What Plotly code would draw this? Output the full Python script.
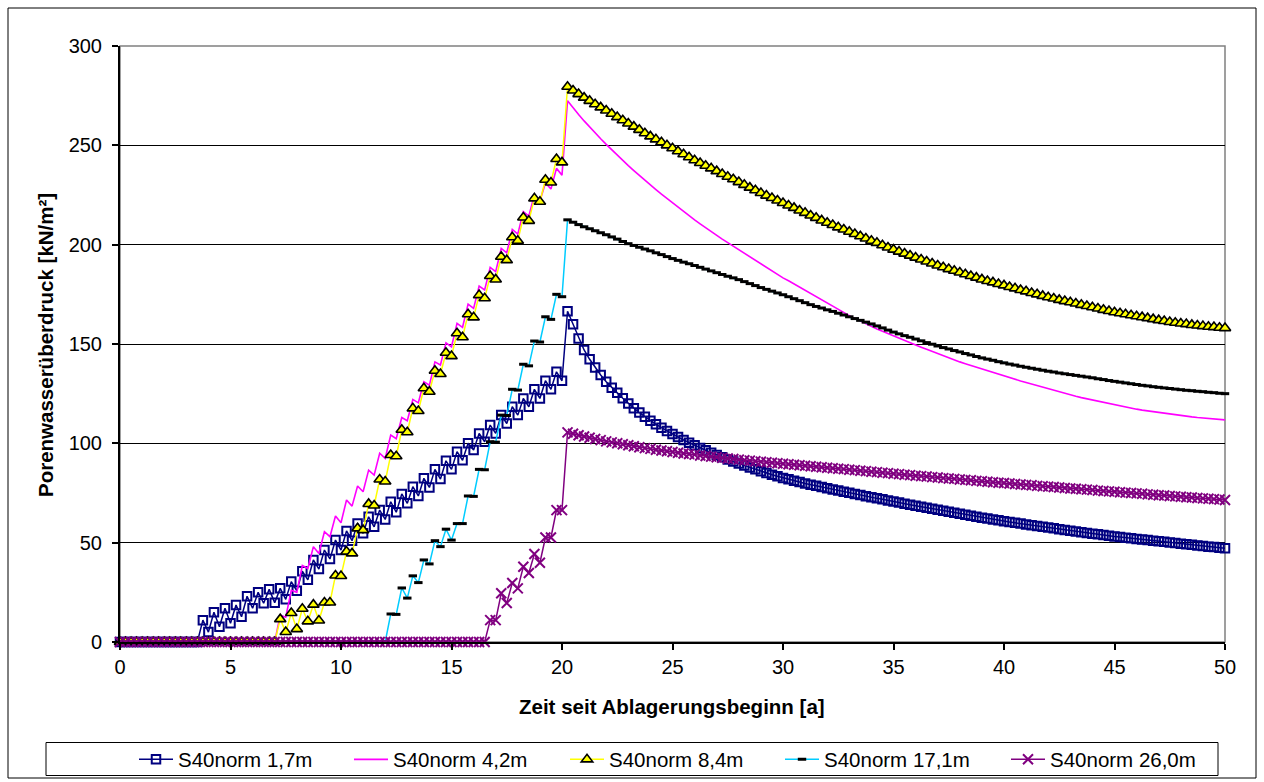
import plotly.graph_objects as go

# time grid (years), step 0.25 from 0 to 50
t = [i * 0.25 for i in range(201)]

# ---- S40norm 1,7m (zero up to t=3.5) ----
s17_rise = [11, 5, 15, 7.7, 17, 9.4, 18.6, 12.7, 23, 17, 25, 19.5, 26.5, 19.8, 27, 21.5,
            30.4, 25.8, 35.6, 31.3, 41.3, 36.7, 46.3, 41.8, 51.3, 46.3, 55.9, 51, 59.7, 54.7,
            63, 58, 66.4, 61.7, 70.6, 65.3, 74.5, 69.8, 78.2, 73.5, 82.4, 77.8, 86.9, 82,
            91.2, 86.9, 95.8, 91.5, 100, 96.6, 105, 100.8, 109.2, 105, 114.2, 110, 118.4, 114.2,
            122.6, 118.4, 127.2, 122.6, 131.5, 127.2, 136, 131.5]
s17_decay = [166.5, 160, 152.8, 147,
             142.3, 138.2, 134.4, 131,
             128, 125.4, 122.7, 120.1,
             117.7, 115.5, 113.4, 111.4,
             109.6, 107.9, 106.2, 104.7,
             103.2, 101.7, 100.3, 99.0,
             97.7, 96.5, 95.3, 94.1,
             93.0, 91.9, 90.8, 89.8,
             88.8, 87.8, 86.9, 86.0,
             85.1, 84.2, 83.4, 82.6,
             81.9, 81.2, 80.5, 79.8,
             79.2, 78.6, 78.0, 77.4,
             76.8, 76.2, 75.6, 75.1,
             74.5, 74.0, 73.4, 72.9,
             72.3, 71.8, 71.2, 70.7,
             70.2, 69.6, 69.1, 68.6,
             68.1, 67.6, 67.1, 66.6,
             66.1, 65.6, 65.1, 64.6,
             64.1, 63.6, 63.1, 62.6,
             62.2, 61.7, 61.3, 60.8,
             60.4, 60.0, 59.6, 59.2,
             58.8, 58.4, 58.0, 57.6,
             57.2, 56.8, 56.4, 56.0,
             55.6, 55.2, 54.9, 54.5,
             54.2, 53.8, 53.5, 53.1,
             52.8, 52.5, 52.2, 51.9,
             51.6, 51.3, 51.0, 50.7,
             50.4, 50.1, 49.8, 49.5,
             49.2, 48.9, 48.6, 48.3,
             48.0, 47.8, 47.5, 47.2]
s17 = [0] * 15 + s17_rise + s17_decay

# ---- S40norm 4,2m (zero up to t=7.0) ----
s42_rise = [13.5, 12.5, 26, 25, 38.5, 37, 48, 44.6, 55.5, 53, 63.4, 60, 71.5, 68.4, 78.5, 75.6,
            86.5, 84, 95, 92.4, 104.2, 102.3, 113, 111.4, 122.1, 120.4, 131, 129.3, 141, 139.4,
            150.6, 148.6, 160.4, 158.4, 170.1, 167.9, 179.2, 177.2, 188.6, 186.4, 198.1, 195.9,
            207.7, 205.3, 216.6, 214.4, 225, 222, 231, 228, 238.4, 235]
s42_decay = [272.5, 268.7, 265.5, 262.3,
             259.2, 256.2, 253.3, 250.5,
             247.7, 245.0, 242.4, 239.8,
             237.3, 234.8, 232.4, 230.0,
             227.7, 225.4, 223.2, 221.0,
             218.8, 216.7, 214.6, 212.5,
             210.5, 208.5, 206.6, 204.7,
             202.8, 201.0, 199.2, 197.4,
             195.6, 193.8, 192.0, 190.3,
             188.6, 186.9, 185.1, 183.3,
             181.8, 180.2, 178.7, 176.8,
             175.1, 173.5, 171.9, 170.3,
             168.8, 167.3, 165.8, 164.3,
             162.9, 161.5, 160.2, 158.9,
             157.6, 156.4, 155.2, 154.0,
             152.8, 151.7, 150.7, 149.5,
             148.4, 147.3, 146.2, 145.1,
             144.0, 143.0, 142.0, 141.0,
             140.1, 139.2, 138.3, 137.4,
             136.5, 135.7, 134.8, 134.0,
             133.1, 132.3, 131.4, 130.6,
             129.8, 129.0, 128.2, 127.4,
             126.6, 125.9, 125.1, 124.4,
             123.7, 123.0, 122.4, 121.7,
             121.1, 120.5, 119.9, 119.3,
             118.8, 118.2, 117.7, 117.2,
             116.7, 116.3, 115.8, 115.4,
             115.0, 114.6, 114.3, 113.9,
             113.6, 113.3, 113.0, 112.7,
             112.5, 112.2, 112.0, 111.8]
s42 = [0] * 29 + s42_rise + s42_decay

# ---- S40norm 8,4m (zero up to t=7.0) ----
s84_rise = [11.5, 5, 14.6, 6.5, 16.7, 10.4, 18.8, 10.8, 19.9, 19.9, 33.5, 33.2, 45.5, 44.6,
            57.2, 56.3, 69.5, 68.7, 81.8, 80.8, 94.1, 93.5, 106.8, 105.6, 117.6, 116.3,
            127.7, 126, 136.5, 134.9, 145.6, 143.9, 155.4, 153.4, 165, 163.4, 174.6, 173,
            184.2, 182.5, 193.9, 192.2, 203.7, 202, 213.7, 212, 223.3, 221.6, 232.7, 231.3,
            243.1, 241.4]
s84_decay = [279.5, 277.6, 275.8, 274.0,
             272.4, 270.7, 269.1, 267.5,
             265.9, 264.2, 262.6, 261.0,
             259.4, 257.8, 256.1, 254.5,
             253.0, 251.5, 250.0, 248.5,
             247.0, 245.5, 244.0, 242.5,
             241.1, 239.7, 238.4, 237.0,
             235.6, 234.2, 232.9, 231.5,
             230.1, 228.7, 227.4, 226.0,
             224.7, 223.5, 222.2, 221.0,
             219.7, 218.5, 217.2, 216.0,
             214.7, 213.5, 212.2, 211.0,
             209.9, 208.7, 207.6, 206.5,
             205.4, 204.2, 203.1, 202.0,
             200.9, 199.7, 198.6, 197.5,
             196.5, 195.5, 194.5, 193.5,
             192.5, 191.5, 190.5, 189.5,
             188.6, 187.7, 186.9, 186.0,
             185.1, 184.2, 183.4, 182.5,
             181.7, 181.0, 180.2, 179.5,
             178.7, 178.0, 177.2, 176.5,
             175.7, 175.0, 174.2, 173.5,
             172.9, 172.2, 171.6, 171.0,
             170.4, 169.7, 169.1, 168.5,
             167.9, 167.2, 166.6, 166.0,
             165.5, 165.0, 164.5, 164.0,
             163.5, 163.0, 162.5, 162.0,
             161.6, 161.1, 160.7, 160.3,
             160.0, 159.6, 159.3, 159.0,
             158.7, 158.5, 158.2, 158.0]
s84 = [0] * 29 + s84_rise + s84_decay

# ---- S40norm 17,1m (zero up to t=12.0) ----
s171_rise = [14.1, 13.9, 27.2, 22.1, 33.3, 29.9, 41.3, 39.3, 51, 48, 56.8, 51.3, 59.6, 59.6,
             73.5, 73.3, 86.9, 86.7, 100.8, 100.6, 114.2, 114, 127.2, 126.8, 139.8, 139,
             151.5, 151, 163.7, 162.4, 175, 173.8]
s171_decay = [212.5, 211.3, 210.1, 209.0,
              208.0, 207.0, 206.0, 205.0,
              203.9, 202.8, 201.6, 200.5,
              199.6, 198.7, 197.8, 196.9,
              195.9, 195.0, 194.0, 193.0,
              192.1, 191.2, 190.4, 189.5,
              188.6, 187.7, 186.8, 185.9,
              185.0, 184.1, 183.3, 182.4,
              181.4, 180.4, 179.4, 178.4,
              177.5, 176.6, 175.7, 174.8,
              173.8, 172.8, 171.8, 170.8,
              169.8, 168.9, 168.1, 167.2,
              166.4, 165.5, 164.6, 163.7,
              162.8, 161.9, 161.0, 160.1,
              159.1, 158.1, 157.0, 156.0,
              155.1, 154.2, 153.4, 152.5,
              151.6, 150.7, 149.9, 149.0,
              148.2, 147.5, 146.7, 146.0,
              145.2, 144.5, 143.7, 143.0,
              142.4, 141.8, 141.1, 140.5,
              139.9, 139.4, 138.8, 138.3,
              137.8, 137.3, 136.8, 136.3,
              135.9, 135.4, 135.0, 134.6,
              134.2, 133.8, 133.4, 133.0,
              132.5, 132.1, 131.6, 131.2,
              130.8, 130.4, 130.0, 129.6,
              129.2, 128.9, 128.5, 128.2,
              127.9, 127.6, 127.3, 127.0,
              126.7, 126.5, 126.2, 126.0,
              125.7, 125.5, 125.2, 125.0]
s171 = [0] * 49 + s171_rise + s171_decay

# ---- S40norm 26,0m (zero up to t=16.5) ----
s260_rise = [11, 11, 24.5, 19.6, 29.7, 27, 37.9, 34.7, 44.3, 39.9, 52.6, 52.6, 66.4, 66.4]
s260_decay = [105.5, 104.8, 104.1, 103.4,
              102.8, 102.2, 101.6, 101.0,
              100.5, 100.0, 99.5, 99.0,
              98.5, 98.0, 97.6, 97.2,
              96.8, 96.4, 96.0, 95.6,
              95.3, 94.9, 94.6, 94.3,
              93.9, 93.6, 93.3, 93.0,
              92.7, 92.4, 92.1, 91.8,
              91.5, 91.3, 91.0, 90.7,
              90.5, 90.2, 90.0, 89.7,
              89.5, 89.2, 89.0, 88.7,
              88.5, 88.2, 88.0, 87.7,
              87.5, 87.2, 87.0, 86.7,
              86.5, 86.2, 86.0, 85.7,
              85.5, 85.2, 85.0, 84.7,
              84.5, 84.2, 84.0, 83.7,
              83.5, 83.3, 83.0, 82.8,
              82.5, 82.3, 82.1, 81.8,
              81.6, 81.4, 81.1, 80.9,
              80.7, 80.4, 80.2, 80.0,
              79.8, 79.5, 79.3, 79.1,
              78.9, 78.6, 78.4, 78.2,
              78.0, 77.8, 77.5, 77.3,
              77.1, 76.9, 76.7, 76.5,
              76.2, 76.0, 75.8, 75.6,
              75.4, 75.2, 75.0, 74.8,
              74.6, 74.3, 74.1, 73.9,
              73.7, 73.5, 73.3, 73.1,
              72.9, 72.7, 72.5, 72.3,
              72.1, 71.9, 71.7, 71.5]
s260 = [0] * 67 + s260_rise + s260_decay

for s in (s17, s42, s84, s171, s260):
    assert len(s) == len(t), len(s)

series_names = ["S40norm 1,7m", "S40norm 4,2m", "S40norm 8,4m", "S40norm 17,1m", "S40norm 26,0m"]
x_ticks = [0, 5, 10, 15, 20, 25, 30, 35, 40, 45, 50]
y_ticks = [0, 50, 100, 150, 200, 250, 300]

FONT = "Liberation Sans, Arial, sans-serif"
W, H = 1264, 782
L, R, T, B = 120, 39, 46, 140
pw, ph = W - L - R, H - T - B


def px_x(p):
    return (p - L) / pw


def px_y(p):
    return (H - B - p) / ph


fig = go.Figure()
fig.add_trace(go.Scatter(
    x=t, y=s17, name=series_names[0], mode="lines+markers", cliponaxis=False, legend="legend",
    line=dict(color="#000080", width=1.5),
    marker=dict(symbol="square-open", size=8.5, color="#000080", line=dict(color="#000080", width=2))))
fig.add_trace(go.Scatter(
    x=t, y=s42, name=series_names[1], mode="lines", cliponaxis=False, legend="legend2",
    line=dict(color="#FF00FF", width=1.6)))
fig.add_trace(go.Scatter(
    x=t, y=s84, name=series_names[2], mode="lines+markers", cliponaxis=False, legend="legend3",
    line=dict(color="#FFFF00", width=1.5),
    marker=dict(symbol="triangle-up", size=10, color="#FFFF00", line=dict(color="#000000", width=1.6))))
fig.add_trace(go.Scatter(
    x=t, y=s171, name=series_names[3], mode="lines+markers", cliponaxis=False, legend="legend4",
    line=dict(color="#00CCFF", width=1.5),
    marker=dict(symbol="line-ew", size=6, color="#000000", line=dict(color="#000000", width=3))))
fig.add_trace(go.Scatter(
    x=t, y=s260, name=series_names[4], mode="lines+markers", cliponaxis=False, legend="legend5",
    line=dict(color="#800080", width=1.5),
    marker=dict(symbol="x-thin", size=10, color="#800080", line=dict(color="#800080", width=2))))

# pixel position where each legend entry's line sample starts
legend_starts = [141, 356, 572, 787, 1013]


def legend_at(px):
    return dict(orientation="h", x=px_x(px - 7), y=px_y(759.5), xanchor="left", yanchor="middle",
                bgcolor="rgba(0,0,0,0)", borderwidth=0, itemwidth=34,
                font=dict(family=FONT, size=20.5, color="black"))


fig.update_layout(
    width=W, height=H,
    margin=dict(l=L, r=R, t=T, b=B, autoexpand=False),
    paper_bgcolor="white", plot_bgcolor="white",
    font=dict(family=FONT, size=20, color="black"),
    showlegend=True,
    legend=legend_at(legend_starts[0]),
    legend2=legend_at(legend_starts[1]),
    legend3=legend_at(legend_starts[2]),
    legend4=legend_at(legend_starts[3]),
    legend5=legend_at(legend_starts[4]),
    xaxis=dict(range=[0, 50], tickvals=x_ticks, ticktext=[str(v) for v in x_ticks],
               ticks="outside", ticklen=6, tickwidth=1.5, tickcolor="black",
               showline=True, linecolor="black", linewidth=2, showgrid=False, zeroline=False,
               tickfont=dict(family=FONT, size=20)),
    yaxis=dict(range=[0, 300], tickvals=y_ticks, ticktext=[str(v) for v in y_ticks],
               ticks="outside", ticklen=6, tickwidth=1.5, tickcolor="black",
               showline=True, linecolor="black", linewidth=2, ticklabelstandoff=6,
               showgrid=True, gridcolor="black", gridwidth=1, zeroline=False,
               tickfont=dict(family=FONT, size=20)),
    annotations=[
        dict(text="<b>Zeit seit Ablagerungsbeginn [a]</b>", xref="paper", yref="paper",
             x=px_x(672), y=px_y(706), xanchor="center", yanchor="middle", showarrow=False,
             font=dict(family=FONT, size=20.5, color="black")),
        dict(text="<b>Porenwasserüberdruck [kN/m²]</b>", xref="paper", yref="paper",
             x=px_x(45), y=px_y(345), xanchor="center", yanchor="middle", showarrow=False,
             textangle=-90, font=dict(family=FONT, size=20.5, color="black")),
    ],
    shapes=[
        dict(type="rect", xref="paper", yref="paper", x0=0, x1=1, y0=0, y1=1,
             line=dict(color="#808080", width=1.5), layer="below"),
        dict(type="rect", xref="paper", yref="paper", x0=px_x(8), x1=px_x(1256),
             y0=px_y(778), y1=px_y(8), line=dict(color="black", width=1), layer="below"),
        dict(type="rect", xref="paper", yref="paper", x0=px_x(46), x1=px_x(1218),
             y0=px_y(775.5), y1=px_y(742.5), line=dict(color="black", width=1), layer="below"),
    ],
)

fig.write_html("out.html")
